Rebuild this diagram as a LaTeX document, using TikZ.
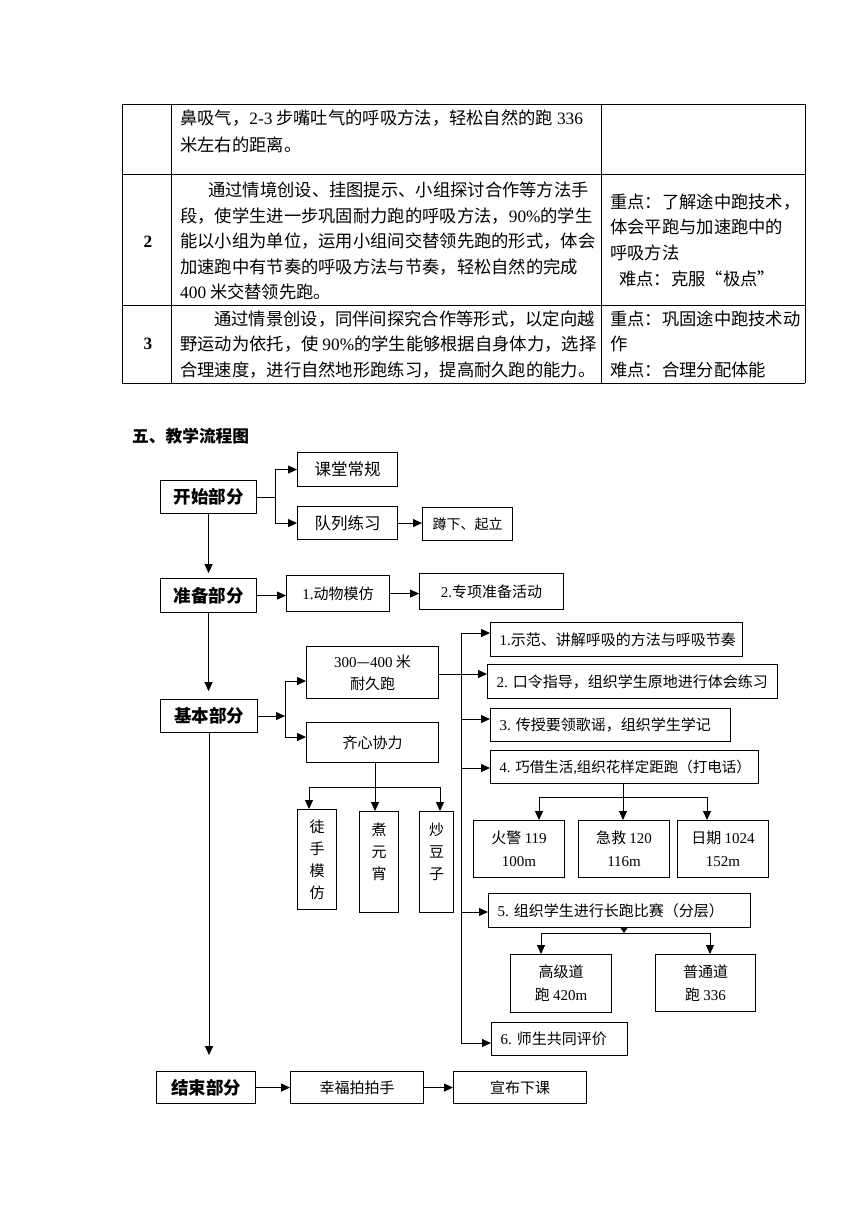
\documentclass[tikz,border=0pt]{standalone}
\usepackage{fontspec}
\setmainfont{Noto Sans CJK SC}
\newfontfamily\tm{Liberation Serif}
\usetikzlibrary{arrows.meta}
\newcommand\fsz[2]{\fontsize{#1}{#2}\selectfont}
\setlength{\parindent}{0pt}
\begin{document}
\begin{tikzpicture}[x=1pt,y=-1pt,
  bx/.style={draw, line width=1.1pt, inner sep=0pt, anchor=north west, align=center},
  lbox/.style={draw, line width=1.1pt, inner ysep=0pt, inner xsep=9pt, anchor=north west, align=left, text width=#1},
  hd/.style={font=\fsz{17.5}{20}\bfseries},
  fa/.style={font=\fsz{15}{22}},
  fb/.style={font=\fsz{15}{23}},
  arr/.style={line width=1pt, -{Triangle[length=9pt,width=8pt]}},
  ln/.style={line width=1pt},
  tl/.style={line width=0.9pt},
  tx/.style={anchor=west, inner sep=0pt, font=\fsz{17.3}{20}}]
\useasboundingbox (0,0) rectangle (860,1216);
\fill[white] (0,0) rectangle (860,1216);

% ---------- table ----------
\draw[tl] (122,104) -- (805,104);
\draw[tl] (122,174) -- (805,174);
\draw[tl] (122,305) -- (805,305);
\draw[tl] (122,383) -- (805,383);
\draw[tl] (122,104) -- (122,383);
\draw[tl] (171,104) -- (171,383);
\draw[tl] (601,104) -- (601,383);
\draw[tl] (805,104) -- (805,383);

\node[tx] (r1a) at (180,118) {鼻吸气，{\tm 2-3} 步嘴吐气的呼吸方法，轻松自然的跑 {\tm 336}};
\node[tx] (r1b) at (180,145) {米左右的距离。};

\node[tx] (r2a) at (208,190) {通过情境创设、挂图提示、小组探讨合作等方法手};
\node[tx] (r2b) at (180,216) {段，使学生进一步巩固耐力跑的呼吸方法，{\tm 90\%}的学生};
\node[tx] (r2c) at (180,241) {能以小组为单位，运用小组间交替领先跑的形式，体会};
\node[tx] (r2d) at (180,267) {加速跑中有节奏的呼吸方法与节奏，轻松自然的完成};
\node[tx] (r2e) at (180,292) {{\tm 400} 米交替领先跑。};
\node[tx] (k2a) at (610,202) {重点：了解途中跑技术，};
\node[tx] (k2b) at (610,227) {体会平跑与加速跑中的};
\node[tx] (k2c) at (610,253) {呼吸方法};
\node[tx] (k2d) at (619,279) {难点：克服“极点”};
\node[font=\fsz{17.3}{20}\tm\bfseries, inner sep=0pt] (n2) at (148,242) {2};

\node[tx] (r3a) at (214,319) {通过情景创设，同伴间探究合作等形式，以定向越};
\node[tx] (r3b) at (180,344) {野运动为依托，使 {\tm 90\%}的学生能够根据自身体力，选择};
\node[tx] (r3c) at (180,370) {合理速度，进行自然地形跑练习，提高耐久跑的能力。};
\node[tx] (k3a) at (610,319) {重点：巩固途中跑技术动};
\node[tx] (k3b) at (610,344) {作};
\node[tx] (k3c) at (610,370) {难点：合理分配体能};
\node[font=\fsz{17.3}{20}\tm\bfseries, inner sep=0pt] (n3) at (148,344) {3};

% ---------- title ----------
\node[anchor=west, inner sep=0pt, font=\fsz{16.7}{20}\bfseries] (title) at (132,436) {五、教学流程图};

% ---------- flow chart nodes ----------
\node[bx, hd, minimum width=96, minimum height=33] (start) at (160,480) {开始部分};
\node[bx, font=\fsz{16.5}{20}, minimum width=100, minimum height=34] (ketang) at (297,452) {课堂常规};
\node[bx, font=\fsz{16.5}{20}, minimum width=100, minimum height=33] (duilie) at (297,506) {队列练习};
\node[bx, font=\fsz{14}{20}, minimum width=90, minimum height=33] (dunxia) at (422,507) {蹲下、起立};

\node[bx, hd, minimum width=96, minimum height=34] (zhunbei) at (160,578) {准备部分};
\node[bx, fa, minimum width=103, minimum height=36] (dongwu) at (286,575) {{\tm 1.}动物模仿};
\node[bx, fa, minimum width=144, minimum height=36] (zhuanx) at (419,573) {{\tm 2.}专项准备活动};

\node[bx, hd, minimum width=97, minimum height=33] (jiben) at (160,699) {基本部分};
\node[bx, fa, minimum width=132, minimum height=52] (naijiu) at (306,646) {{\tm 300}—{\tm 400} 米\\耐久跑};
\node[bx, fa, minimum width=132, minimum height=40] (qixin) at (306,722) {齐心协力};

\node[lbox=234, fa, minimum height=34] (b1) at (490,622) {\mbox{{\tm 1.}示范、讲解呼吸的方法与呼吸节奏}};
\node[lbox=272, fa, minimum height=34] (b2) at (487,664) {\mbox{{\tm 2.~}口令指导，组织学生原地进行体会练习}};
\node[lbox=222, fa, minimum height=33] (b3) at (490,708) {\mbox{{\tm 3.~}传授要领歌谣，组织学生学记}};
\node[lbox=250, font=\fsz{14.5}{20}, minimum height=33] (b4) at (490,750) {\mbox{{\tm 4.~}巧借生活{\tm ,}组织花样定距跑（打电话）}};

\node[bx, fa, minimum width=39, minimum height=100] (tushou) at (297,809) {徒\\手\\模\\仿};
\node[bx, fa, minimum width=39, minimum height=101] (zhu) at (359,811) {煮\\元\\宵\\~};
\node[bx, fa, minimum width=34, minimum height=101] (chao) at (419,811) {炒\\豆\\子\\~};

\node[bx, fb, minimum width=91, minimum height=57] (huojing) at (473,820) {火警 {\tm 119}\\{\tm 100m}};
\node[bx, fb, minimum width=91, minimum height=57] (jijiu) at (578,820) {急救 {\tm 120}\\{\tm 116m}};
\node[bx, fb, minimum width=91, minimum height=57] (riqi) at (677,820) {日期 {\tm 1024}\\{\tm 152m}};

\node[lbox=244, fa, minimum height=34] (b5) at (488,893) {\mbox{{\tm 5.~}组织学生进行长跑比赛（分层）}};
\node[bx, fb, minimum width=101, minimum height=58] (gaoji) at (510,954) {高级道\\跑 {\tm 420m}};
\node[bx, fb, minimum width=100, minimum height=57] (putong) at (655,954) {普通道\\跑 {\tm 336}};
\node[lbox=118, fa, minimum height=33] (b6) at (491,1022) {\mbox{{\tm 6.~}师生共同评价}};

\node[bx, hd, minimum width=99, minimum height=32] (jieshu) at (156,1071) {结束部分};
\node[bx, fa, minimum width=133, minimum height=32] (xingfu) at (290,1071) {幸福拍拍手};
\node[bx, fa, minimum width=133, minimum height=32] (xuanbu) at (453,1071) {宣布下课};

% ---------- connectors ----------
% start section
\draw[ln] (start.east) -- ++(18,0) coordinate (s1);
\draw[arr] (s1) |- (ketang.west);
\draw[arr] (s1) |- (duilie.west);
\draw[arr] (duilie.east) -- (duilie.east -| dunxia.west);
\draw[arr] (start.south) -- ++(0,59) coordinate (s2);

% preparation
\draw[arr] (zhunbei.east) -- (zhunbei.east -| dongwu.west);
\draw[arr] (dongwu.east) -- (dongwu.east -| zhuanx.west);
\draw[arr] (zhunbei.south) -- ++(0,78) coordinate (s3);

% basic part
\coordinate (v1t) at (285,681);
\coordinate (v1b) at (285,737);
\draw[arr] (jiben.east) -- (jiben.east -| v1t);
\draw[ln] (v1t) -- (v1b);
\draw[arr] (v1t) -- (v1t -| naijiu.west);
\draw[arr] (v1b) -- (v1b -| qixin.west);

% bus to numbered items
\coordinate (r1) at (461,633);
\coordinate (r2) at (461,674);
\coordinate (r3) at (461,719);
\coordinate (r4) at (461,768);
\coordinate (r5) at (461,912);
\coordinate (r6) at (461,1043);
\draw[ln] (r1) -- (r6);
\draw[arr] (naijiu.east |- r2) -- (r2 -| b2.west);
\draw[arr] (r1) -- (r1 -| b1.west);
\draw[arr] (r3) -- (r3 -| b3.west);
\draw[arr] (r4) -- (r4 -| b4.west);
\draw[arr] (r5) -- (r5 -| b5.west);
\draw[arr] (r6) -- (r6 -| b6.west);

% qixin branches
\coordinate (q) at (375,787);
\coordinate (qa) at (309,787);
\coordinate (qc) at (440,787);
\draw[ln] (qixin.south -| q) -- (q);
\draw[ln] (qa) -- (qc);
\draw[arr] (qa) -- (qa |- tushou.north);
\draw[arr] (q) -- (q |- zhu.north);
\draw[arr] (qc) -- (qc |- chao.north);

% item 4 branches
\coordinate (p) at (623,797);
\coordinate (pa) at (539,797);
\coordinate (pc) at (707,797);
\draw[ln] (b4.south -| p) -- (p);
\draw[ln] (pa) -- (pc);
\draw[arr] (pa) -- (pa |- huojing.north);
\draw[arr] (p) -- (p |- jijiu.north);
\draw[arr] (pc) -- (pc |- riqi.north);

% item 5 branches
\coordinate (g) at (624,933);
\coordinate (ga) at (541,933);
\coordinate (gc) at (710,933);
\draw[line width=1pt, -{Triangle[length=6pt,width=8pt]}] (b5.south -| g) -- (g);
\draw[ln] (ga) -- (gc);
\draw[arr] (ga) -- (ga |- gaoji.north);
\draw[arr] (gc) -- (gc |- putong.north);

% main vertical to end
\draw[arr] (jiben.south) -- ++(0,322) coordinate (s4);

% end section
\draw[arr] (jieshu.east) -- (jieshu.east -| xingfu.west);
\draw[arr] (xingfu.east) -- (xingfu.east -| xuanbu.west);
\end{tikzpicture}
\end{document}
